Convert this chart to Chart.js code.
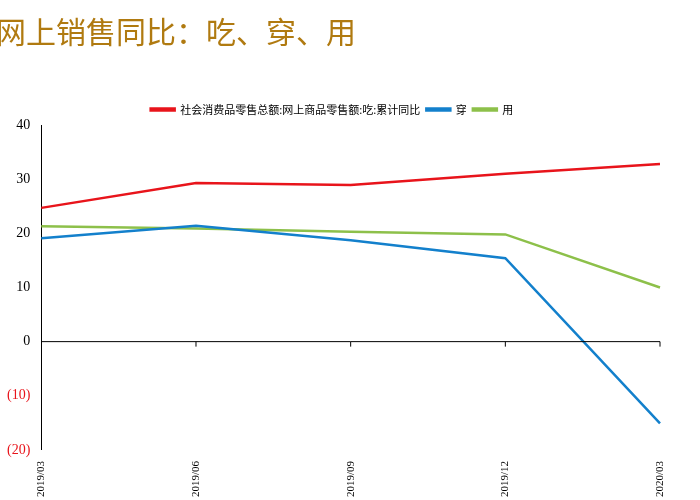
<!DOCTYPE html>
<html><head><meta charset="utf-8">
<script src="https://cdn.jsdelivr.net/npm/chart.js@4"></script>
<style>
body{margin:0;background:#fff;}
#t{position:absolute;left:-4px;top:8px;font:30px "Noto Sans CJK SC";color:#B07A10;}
#w{position:absolute;left:0;top:0;width:700px;height:500px;}
</style></head><body>
<div id="w"><canvas id="c"></canvas></div>
<div id="t">网上销售同比：吃、穿、用</div>
<script>
const labels = ["2019/03", "2019/06", "2019/09", "2019/12", "2020/03"];
const food = [24.7, 29.3, 28.9, 31.0, 32.8];
const cloth = [19.1, 21.4, 18.7, 15.4, -15.1];
const use = [21.3, 20.9, 20.3, 19.8, 10.0];

const zeroAxis = {
  id: "zeroAxis",
  afterDraw(chart) {
    const ctx = chart.ctx, x = chart.scales.x, y = chart.scales.y;
    const y0 = y.getPixelForValue(0);
    ctx.save();
    ctx.strokeStyle = "#000";
    ctx.lineWidth = 1;
    ctx.beginPath();
    ctx.moveTo(x.left, y0);
    ctx.lineTo(x.right, y0);
    for (let i = 1; i < labels.length; i++) {
      const px = x.getPixelForValue(i);
      ctx.moveTo(px, y0);
      ctx.lineTo(px, y0 + 5);
    }
    ctx.stroke();
    ctx.restore();
  }
};

new Chart(document.getElementById("c"), {
  type: "line",
  data: {
    labels,
    datasets: [
      { label: "社会消费品零售总额:网上商品零售额:吃:累计同比", data: food, borderColor: "#E8141B", backgroundColor: "#E8141B" },
      { label: "穿", data: cloth, borderColor: "#1380CC", backgroundColor: "#1380CC" },
      { label: "用", data: use, borderColor: "#8DC04A", backgroundColor: "#8DC04A" }
    ]
  },
  options: {
    responsive: true,
    maintainAspectRatio: false,
    animation: false,
    elements: { point: { radius: 0 }, line: { borderWidth: 2.5, tension: 0 } },
    layout: { padding: { top: 98, right: 40, left: 4, bottom: 0 } },
    plugins: {
      legend: {
        position: "top",
        align: "center",
        labels: {
          boxWidth: 24, boxHeight: 2, color: "#000", padding: 6,
          font: { family: "Noto Sans CJK SC", size: 11 }
        }
      },
      tooltip: { enabled: false }
    },
    scales: {
      x: {
        offset: false,
        grid: { display: false },
        border: { display: false },
        ticks: {
          minRotation: 90, maxRotation: 90, color: "#000",
          font: { family: "Liberation Serif", size: 11 }
        }
      },
      y: {
        min: -20, max: 40,
        grid: { display: false, drawTicks: true },
        border: { color: "#000" },
        ticks: {
          stepSize: 10,
          color: (c) => c.tick.value < 0 ? "#E8141B" : "#000",
          font: { family: "Liberation Serif", size: 14 },
          callback: (v) => v < 0 ? "(" + (-v) + ")" : v
        }
      }
    }
  },
  plugins: [zeroAxis]
});
</script>
</body></html>
